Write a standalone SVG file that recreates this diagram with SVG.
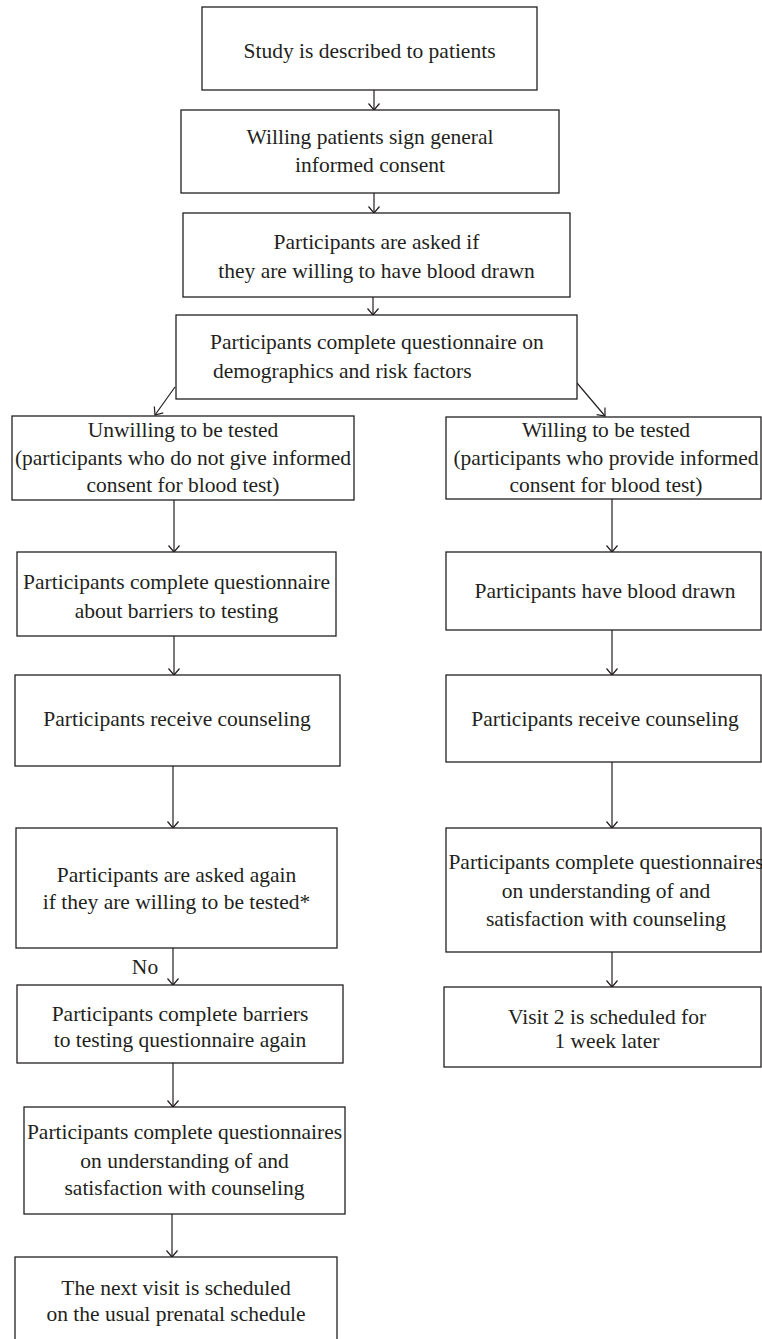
<svg xmlns="http://www.w3.org/2000/svg" width="762" height="1339" viewBox="0 0 762 1339">
<style>
.box{fill:#fff;stroke:#231f20;stroke-width:1.3}
.t{font-family:"Liberation Serif","Times New Roman",serif;font-size:21.5px;fill:#231f20;text-anchor:middle}
.s{text-anchor:start}
.c{stroke:#231f20;stroke-width:1.2;fill:none;marker-end:url(#ah)}
</style>
<defs>
<marker id="ah" markerUnits="userSpaceOnUse" markerWidth="16" markerHeight="16" refX="0" refY="0" orient="auto" viewBox="-8 -8 16 16" overflow="visible">
<path d="M-6.5,-5.5 L0,0 L-6.5,5.5" fill="none" stroke="#231f20" stroke-width="1.2"/>
</marker>
</defs>
<rect width="762" height="1339" fill="#fff"/>
<g id="connectors">
<line class="c" x1="374" y1="90" x2="374" y2="110"/>
<line class="c" x1="374" y1="193" x2="374" y2="213"/>
<line class="c" x1="373" y1="297" x2="373" y2="315"/>
<line class="c" x1="175" y1="387" x2="155" y2="415"/>
<line class="c" x1="577" y1="383" x2="605" y2="416"/>
<line class="c" x1="174" y1="500" x2="174" y2="552"/>
<line class="c" x1="174" y1="636" x2="174" y2="675"/>
<line class="c" x1="173" y1="766" x2="173" y2="828"/>
<line class="c" x1="173" y1="948" x2="173" y2="985"/>
<line class="c" x1="173" y1="1063" x2="173" y2="1107"/>
<line class="c" x1="172" y1="1214" x2="172" y2="1257"/>
<line class="c" x1="612" y1="499" x2="612" y2="552"/>
<line class="c" x1="612" y1="630" x2="612" y2="675"/>
<line class="c" x1="612" y1="762" x2="612" y2="828"/>
<line class="c" x1="612" y1="952" x2="612" y2="987"/>
<text class="t" x="145" y="974">No</text>
</g>
<g id="n1"><rect class="box" x="202" y="7" width="335" height="83"/><text class="t" x="369.5" y="58">Study is described to patients</text></g>
<g id="n2"><rect class="box" x="181" y="110" width="378" height="83"/><text class="t" x="370" y="144">Willing patients sign general</text><text class="t" x="370" y="172">informed consent</text></g>
<g id="n3"><rect class="box" x="183" y="213" width="387" height="84"/><text class="t" x="376.5" y="249">Participants are asked if</text><text class="t" x="376.5" y="278">they are willing to have blood drawn</text></g>
<g id="n4"><rect class="box" x="176" y="315" width="401" height="84"/><text class="t s" x="210" y="349">Participants complete questionnaire on</text><text class="t s" x="213" y="378">demographics and risk factors</text></g>
<g id="u1"><rect class="box" x="12" y="416" width="342" height="84"/><text class="t" x="183" y="437">Unwilling to be tested</text><text class="t" x="183" y="465">(participants who do not give informed</text><text class="t" x="183" y="492">consent for blood test)</text></g>
<g id="u2"><rect class="box" x="17" y="552" width="319" height="84"/><text class="t" x="176.5" y="589">Participants complete questionnaire</text><text class="t" x="176.5" y="618">about barriers to testing</text></g>
<g id="u3"><rect class="box" x="15" y="675" width="325" height="91"/><text class="t" x="177" y="726">Participants receive counseling</text></g>
<g id="u4"><rect class="box" x="16" y="828" width="321" height="120"/><text class="t" x="176.5" y="882">Participants are asked again</text><text class="t" x="176.5" y="909">if they are willing to be tested*</text></g>
<g id="u5"><rect class="box" x="17" y="985" width="326" height="78"/><text class="t" x="180" y="1021">Participants complete barriers</text><text class="t" x="180" y="1047">to testing questionnaire again</text></g>
<g id="u6"><rect class="box" x="24" y="1107" width="321" height="107"/><text class="t" x="184.5" y="1139">Participants complete questionnaires</text><text class="t" x="184.5" y="1168">on understanding of and</text><text class="t" x="184.5" y="1195">satisfaction with counseling</text></g>
<g id="u7"><rect class="box" x="15" y="1257" width="322" height="100"/><text class="t" x="176" y="1295">The next visit is scheduled</text><text class="t" x="176" y="1321">on the usual prenatal schedule</text></g>
<g id="w1"><rect class="box" x="446" y="417" width="315" height="82"/><text class="t" x="606" y="437">Willing to be tested</text><text class="t" x="606" y="465">(participants who provide informed</text><text class="t" x="606" y="492">consent for blood test)</text></g>
<g id="w2"><rect class="box" x="446" y="552" width="315" height="78"/><text class="t" x="605" y="598">Participants have blood drawn</text></g>
<g id="w3"><rect class="box" x="446" y="675" width="315" height="87"/><text class="t" x="605" y="726">Participants receive counseling</text></g>
<g id="w4"><rect class="box" x="446" y="828" width="315" height="124"/><text class="t" x="606" y="869">Participants complete questionnaires</text><text class="t" x="606" y="898">on understanding of and</text><text class="t" x="606" y="926">satisfaction with counseling</text></g>
<g id="w5"><rect class="box" x="444" y="987" width="317" height="80"/><text class="t" x="607" y="1024">Visit 2 is scheduled for</text><text class="t" x="607" y="1048">1 week later</text></g>
</svg>
